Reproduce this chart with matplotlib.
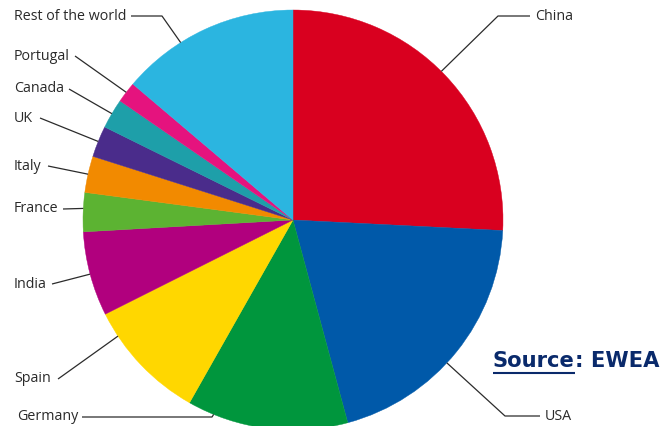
import matplotlib
matplotlib.use("Agg")
import matplotlib.pyplot as plt
import numpy as np

countries = ["China", "USA", "Germany", "Spain", "India", "France", "Italy",
             "UK", "Canada", "Portugal", "Rest of the world"]
shares = [25.8, 20.0, 12.4, 9.4, 6.5, 3.0, 2.8, 2.4, 2.3, 1.6, 13.8]
colors = ["#D9001F", "#0059A9", "#00963D", "#FFD700", "#B1007E", "#5CB332",
          "#F28A00", "#4A2C8B", "#1E9FA9", "#E5137E", "#2BB5E0"]

W, H = 664, 426
fig = plt.figure(figsize=(W / 100, H / 100), dpi=100)
ax = fig.add_axes([0, 0, 1, 1])

cx, cy, R = 293, H - 220, 210
wedges, _ = ax.pie(shares, colors=colors, startangle=90, counterclock=False,
                   center=(cx, cy), radius=R, frame=True,
                   wedgeprops=dict(linewidth=0.3))
for w in wedges:
    w.set_edgecolor(w.get_facecolor())
ax.set_xlim(0, W)
ax.set_ylim(0, H)
ax.set_aspect("equal")
ax.axis("off")

# label layout (pixel coords, y from top): text x, text y, line start x, elbow x, angle offset
layout = {
    "China": (535, 16, 530, 498, 1.5),
    "USA": (545, 416, 540, 505, -4),
    "Germany": (17, 417, 82, 212, -15),
    "Spain": (14, 379, 58, None, -10),
    "India": (14, 284, 52, None, 0),
    "France": (14, 209, 63, None, -1),
    "Italy": (14, 166, 48, None, 0),
    "UK": (14, 118, 40, None, 0),
    "Canada": (14, 89, 69, None, 0),
    "Portugal": (14, 56, 75, None, 0),
    "Rest of the world": (14, 16, 131, 162, 7.5),
}

for w, name in zip(wedges, countries):
    tx, ty, lx, ex, off = layout[name]
    mid = np.deg2rad((w.theta1 + w.theta2) / 2 + off)
    px, py = cx + R * np.cos(mid), cy + R * np.sin(mid)
    ty_ = H - ty
    xs, ys = [lx], [ty_]
    if ex is not None:
        xs.append(ex)
        ys.append(ty_)
    xs.append(px)
    ys.append(py)
    ax.plot(xs, ys, color="#2b2b2b", lw=0.9, solid_capstyle="butt")
    ax.text(tx, ty_, name, ha="left", va="center", fontsize=10.3,
            color="#2a2a2a", family="Open Sans")

navy = "#0A2A6B"
t1 = ax.text(493, H - 361, "Source", ha="left", va="center", fontsize=15.2,
             fontweight="bold", color=navy, family="DejaVu Sans")
fig.canvas.draw()
bb = t1.get_window_extent().transformed(ax.transData.inverted())
ax.plot([bb.x0, bb.x1], [H - 373, H - 373], color=navy, lw=1.5,
        solid_capstyle="butt")
ax.text(bb.x1, H - 361, ": EWEA", ha="left", va="center", fontsize=15.2,
        fontweight="bold", color=navy, family="DejaVu Sans")

fig.savefig("out.png", dpi=100)
